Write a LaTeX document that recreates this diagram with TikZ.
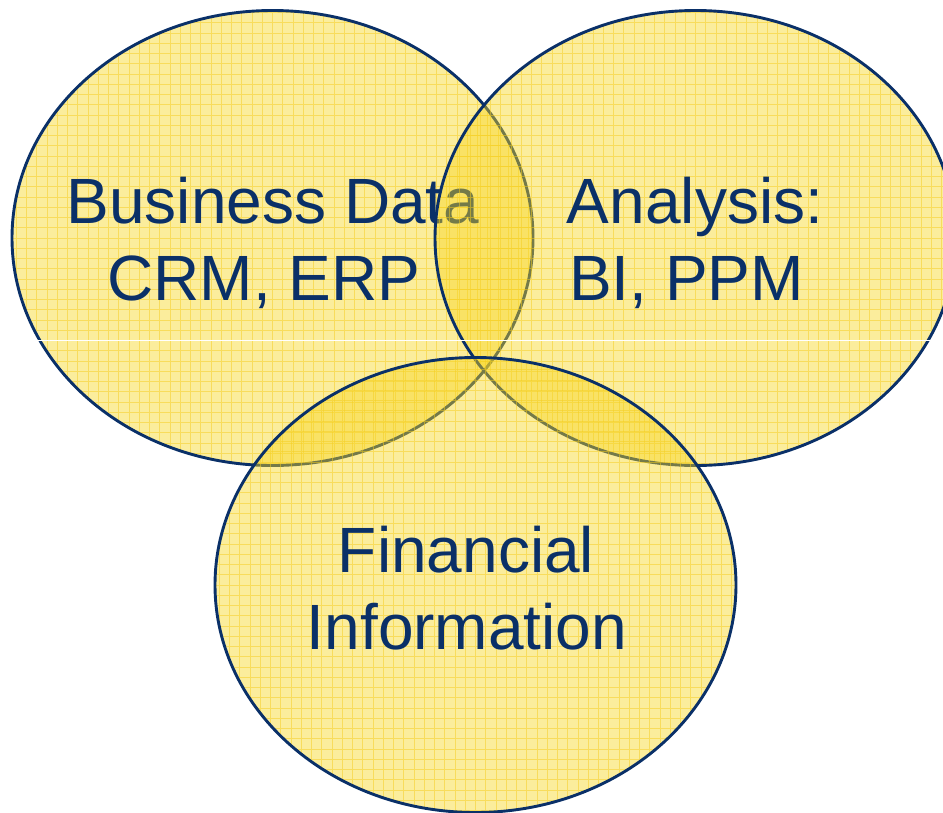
\documentclass[tikz,border=0pt]{standalone}
\usepackage{fontspec}
\setmainfont{Liberation Sans}
\usetikzlibrary{shapes.geometric}
\definecolor{navy}{RGB}{10,48,104}
\definecolor{vyellow}{RGB}{247,214,35}
\definecolor{gridyellow}{RGB}{245,205,30}
\tikzset{
  venn/.style={ellipse, draw=navy, line width=2.9pt, fill=vyellow, fill opacity=0.45,
    minimum width=521pt, minimum height=455pt, inner sep=0pt,
    path picture={\draw[gridyellow, draw opacity=0.5, line width=0.8pt, step=10.25pt]
      ([shift={(-10,10)}]path picture bounding box.south west) grid ([shift={(10,-10)}]path picture bounding box.north east);}},
  lbl/.style={text=navy, text opacity=1, font=\fontsize{64}{78}\selectfont, anchor=base, inner sep=0pt},
  artifact/.style={white, line width=0.8pt}
}
\begin{document}
\begin{tikzpicture}[x=1pt,y=-1pt]
\useasboundingbox (0,0) rectangle (943,812);
\node[venn] (L) at (272.5,238) {};
\node[lbl] (l1) at (273,223) {Business Data};
\node[lbl] (l2) at (264,300) {CRM, ERP};
\node[venn] (R) at (695.5,238) {};
\node[lbl] (r1) at (695,223) {Analysis:};
\node[lbl] (r2) at (686.5,300) {BI, PPM};
\coordinate (wa) at (0,340);
\coordinate (wb) at (943,340);
\draw[artifact] (wa) -- (wb);
\node[venn] (B) at (475.5,585) {};
\node[lbl] (b1) at (466,572) {Financial};
\node[lbl] (b2) at (467,649) {Information};
\end{tikzpicture}
\end{document}
